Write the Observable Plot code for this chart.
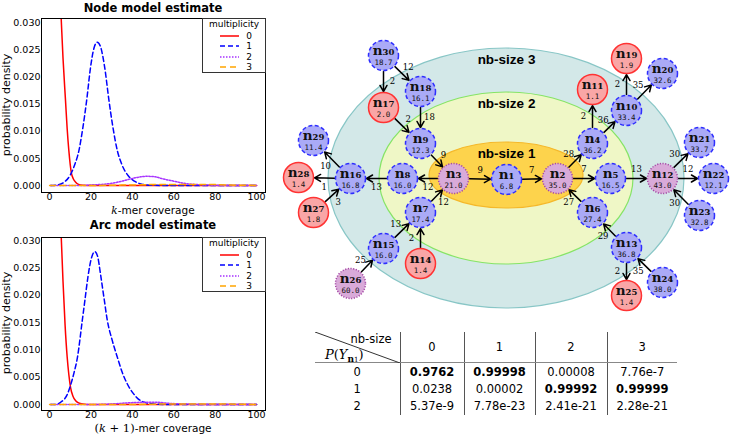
<!DOCTYPE html>
<html><head><meta charset="utf-8">
<script src="https://cdn.jsdelivr.net/npm/d3@7"></script>
<script src="https://cdn.jsdelivr.net/npm/@observablehq/plot@0.6"></script>
<style>
body{margin:0;background:#fff;}
#root{position:relative;width:730px;height:434px;overflow:hidden;background:#fff;font-family:"DejaVu Sans",sans-serif;color:#000;}
.title{position:absolute;left:41px;width:224px;text-align:center;font-weight:bold;font-size:11.5px;line-height:14px;}
.xlab{position:absolute;left:41px;width:224px;text-align:center;font-size:10.5px;line-height:12px;}
.ylab{position:absolute;width:140px;left:-63px;text-align:center;font-size:11px;line-height:14px;transform:rotate(-90deg);}
.legend{position:absolute;left:202px;width:62px;height:53px;border:1px solid #333;background:#fff;}
#tbl{position:absolute;left:315px;top:332px;border-collapse:collapse;font-family:"DejaVu Sans",sans-serif;font-size:11.5px;}
#tbl td{padding:0;text-align:center;line-height:12px;}
#tbl td.v{border-left:1px solid #555;}
#tbl tr.h td{height:30px;border-bottom:1px solid #888;}
#tbl tr.b td{height:17.3px;}
</style>
</head><body>
<div id="root"></div>
<script>
// ---------- curve data ----------
const multiplicities = ["0", "1", "2", "3"];
const xTicks = [0, 20, 40, 60, 80, 100];
const yTicks = [0, 0.005, 0.01, 0.015, 0.02, 0.025, 0.03];

// Node model estimate: [coverage, density]
const nodeM0 = [[5,0.036],[5.6,0.031],[6.5,0.0235],[7.7,0.0157],[8.5,0.0105],[9.3,0.0065],[10.5,0.0024],[11.5,0.0012],[12.6,0.0006],[14,0.0002],[16,0.00005],[20,0],[40,0],[60,0],[80,0],[100,0]];
const nodeM1 = [[0.5,0],[4,0.0001],[7,0.0006],[10.1,0.002],[12,0.0037],[14.2,0.0065],[16,0.0105],[17.9,0.0157],[19.8,0.0219],[21.5,0.0255],[23,0.0265],[24.5,0.0258],[26.6,0.0219],[28.7,0.0157],[30.5,0.011],[32.7,0.0065],[35,0.0038],[38,0.0018],[41,0.0008],[45,0.0002],[50,0.00003],[60,0],[80,0],[100,0]];
const nodeM2 = [[0.5,0],[15,0],[20,0.0001],[25,0.0002],[30,0.0004],[35,0.0008],[40,0.0013],[44,0.0016],[47,0.0017],[51,0.0016],[55,0.0012],[60,0.0008],[65,0.0004],[70,0.0002],[75,0.0001],[85,0],[100,0]];
const nodeM3 = [[0,0],[20,0],[40,0.0001],[55,0.0002],[65,0.0002],[75,0.0002],[85,0.0001],[100,0]];

// Arc model estimate
const arcM0 = [[5,0.036],[5.6,0.031],[6.5,0.0225],[7.5,0.0145],[8.5,0.0087],[9.3,0.0055],[10.1,0.0032],[11.3,0.0015],[12.6,0.0007],[14,0.0003],[16,0.0001],[20,0],[40,0],[60,0],[80,0],[100,0]];
const arcM1 = [[0.5,0],[2.9,0],[5.3,0.0004],[8.5,0.0018],[10.1,0.0035],[11.8,0.0058],[13.4,0.0085],[15.8,0.0154],[17.2,0.0195],[18.5,0.0233],[20.2,0.0268],[21.9,0.028],[23.3,0.027],[24.6,0.0239],[26.3,0.0195],[27.9,0.0154],[30.3,0.0117],[32.7,0.0087],[35,0.006],[37.5,0.0038],[40.5,0.002],[44,0.0007],[50,0.0001],[55,0],[80,0],[100,0]];
const arcM2 = [[0.5,0],[20,0],[30,0.0001],[38,0.0003],[45,0.0004],[52,0.0004],[58,0.0002],[65,0.0001],[75,0],[100,0]];
const arcM3 = [[0,0],[40,0],[60,0.0001],[75,0.0001],[100,0]];

// ---------- graph data ----------
const nodeIds  = [1,2,3,4,5,6,7,8,9,10,11,12,13,14,15,16,17,18,19,20,21,22,23,24,25,26,27,28,29,30];
const nodeCov  = [6.8,35.0,21.0,36.2,16.5,27.4,17.4,16.0,12.3,33.4,1.1,43.0,36.8,1.4,16.0,16.8,2.0,16.1,1.9,32.6,33.7,12.1,32.8,38.0,1.4,60.0,1.8,1.4,11.4,18.7];
const nodeMult = [1,2,2,1,1,1,1,1,1,1,0,2,1,0,1,1,0,1,0,1,1,1,1,1,0,2,0,0,1,1];
// edges: [from, to, weight]
const edgeList = [[30,17,2],[30,18,12],[18,9,18],[17,9,2],[9,3,9],[3,1,9],[1,2,7],[3,8,12],[7,3,12],[8,16,13],[16,29,10],[16,28,1],[27,16,3],[15,7,13],[14,7,2],[26,15,25],[2,4,28],[2,5,7],[6,2,27],[4,11,2],[4,10,36],[10,19,2],[10,20,35],[5,12,13],[12,21,30],[12,22,12],[23,12,30],[13,6,29],[13,25,2],[24,13,35]];
const nbSizes = ["nb-size 3", "nb-size 2", "nb-size 1"];

// table
const tableCols = ["0","1","2","3"];
const tableRowLabels = ["0","1","2"];
const tableVals = [["0.9762","0.99998","0.00008","7.76e-7"],["0.0238","0.00002","0.99992","0.99999"],["5.37e-9","7.78e-23","2.41e-21","2.28e-21"]];

// ---------- layout (positions of the drawing) ----------
const nodePos = {1:[506,179],2:[557,178],3:[453,178],4:[592,143],5:[610,178],6:[592,212],7:[420,212],8:[402,178],9:[420,143],10:[626,110],11:[592,89],12:[662,178],13:[626,247],14:[420,263],15:[383,248],16:[350,178],17:[383,107],18:[420,91],19:[626,58],20:[662,73],21:[699,142],22:[713,178],23:[699,215],24:[662,282],25:[626,295],26:[350,283],27:[313,212],28:[298,177],29:[313,140],30:[383,55]};
const labelSide = {"27-16":-1,"7-3":-1,"13-25":-1};
const ellipseGeom = {"nb-size 3":[506,178,178,130],"nb-size 2":[506,178,127,86],"nb-size 1":[506,175,77,33]};

// ---------- styles ----------
const lineColor = {"0":"#ff0000","1":"#0000ff","2":"#a733ff","3":"#ffa500"};
const lineDash = {"0":null,"1":"5,3","2":"1.5,1.5","3":"6,4"};
const ellFill = {"nb-size 3":"#d3e8e8","nb-size 2":"#eff7c6","nb-size 1":"#fdd34c"};
const ellStroke = {"nb-size 3":"#88c6c6","nb-size 2":"#86e466","nb-size 1":"#f5b82a"};
const nodeFill = {0:"#f9a6a6",1:"#aaaaf7",2:"#d9aad9"};
const nodeStroke = {0:"#ff3333",1:"#2e2eff",2:"#a64aa6"};
const nodeDash = {0:null,1:"4,2.5",2:"1.2,1.5"};

const root = document.getElementById("root");
function place(el, left, top){ el.style.position="absolute"; el.style.left=left+"px"; el.style.top=top+"px"; root.appendChild(el); return el; }

function densityChart(series, yDomain, height, marginTop, marginBottom){
  return Plot.plot({
    width: 270, height, marginLeft: 41, marginRight: 5, marginTop, marginBottom,
    style: {fontFamily: "DejaVu Sans", fontSize: "9.5px", background: "transparent", overflow: "visible"},
    x: {domain: [-3.9, 104.3], ticks: xTicks, tickSize: 0, tickPadding: 1, label: null},
    y: {domain: yDomain, ticks: yTicks, tickFormat: d3.format(".3f"), tickSize: 0, tickPadding: 1, label: null},
    marks: [
      ...series.map((pts, i) => Plot.line(pts, {x: d => d[0], y: d => d[1], stroke: lineColor[multiplicities[i]], strokeWidth: 1.5, strokeDasharray: lineDash[multiplicities[i]], curve: "monotone-x", clip: true})),
      Plot.frame({stroke: "#000", strokeWidth: 1})
    ]
  });
}

function legend(top){
  const div = document.createElement("div");
  div.className = "legend";
  div.style.top = top + "px";
  let html = `<div style="position:absolute;left:0;width:100%;top:0px;text-align:center;line-height:10px;height:10px;font-size:9px">multiplicity</div>`;
  multiplicities.forEach((m, i) => {
    const c = 16.5 + i*10.5;
    html += `<svg style="position:absolute;left:17px;top:${c - 3}px" width="19" height="6"><line x1="0" x2="19" y1="3" y2="3" stroke="${lineColor[m]}" stroke-width="1.5" ${lineDash[m] ? `stroke-dasharray="${lineDash[m]}"` : ""}/></svg>`;
    html += `<div style="position:absolute;left:40px;width:12px;text-align:center;top:${c - 5}px;line-height:10px;height:10px;font-size:9px">${m}</div>`;
  });
  div.innerHTML = html;
  root.appendChild(div);
}

// top chart
place(densityChart([nodeM0,nodeM1,nodeM2,nodeM3], [-0.0013, 0.0309], 215, 18, 23), 0, 0);
const t1 = document.createElement("div"); t1.className="title"; t1.textContent="Node model estimate"; t1.style.top="1px"; root.appendChild(t1);
const x1 = document.createElement("div"); x1.className="xlab"; x1.innerHTML='<span style="font-family:\'DejaVu Serif\';font-style:italic">k</span>-mer coverage'; x1.style.top="204px"; root.appendChild(x1);
const y1 = document.createElement("div"); y1.className="ylab"; y1.textContent="probability density"; y1.style.top="98px"; root.appendChild(y1);
legend(18);

// bottom chart
place(densityChart([arcM0,arcM1,arcM2,arcM3], [-0.0011, 0.0306], 219, 22, 24), 0, 215);
const t2 = document.createElement("div"); t2.className="title"; t2.textContent="Arc model estimate"; t2.style.top="218px"; root.appendChild(t2);
const x2 = document.createElement("div"); x2.className="xlab"; x2.innerHTML='<span style="font-family:\'DejaVu Serif\';font-size:11.5px">(<i>k</i> + 1)</span>-mer coverage'; x2.style.top="422px"; root.appendChild(x2);
const y2 = document.createElement("div"); y2.className="ylab"; y2.textContent="probability density"; y2.style.top="316px"; root.appendChild(y2);
legend(237);

// ---------- graph ----------
const SUB = "₀₁₂₃₄₅₆₇₈₉";
const sub = n => String(n).split("").map(c => SUB[+c]).join("");
const nodes = nodeIds.map((id, i) => ({id, cov: nodeCov[i], mult: nodeMult[i], x: nodePos[id][0], y: nodePos[id][1]}));
const edges = edgeList.map(([s, t, w]) => {
  const [xa, ya] = nodePos[s], [xb, yb] = nodePos[t];
  const len = Math.hypot(xb - xa, yb - ya), ux = (xb - xa)/len, uy = (yb - ya)/len;
  const side = labelSide[s + "-" + t] || 1, off = 9;
  return {s, t, w, x1: xa, y1: ya, x2: xb, y2: yb, lx: (xa + xb)/2 + side*uy*off, ly: (ya + yb)/2 - side*ux*off};
});
const ellipses = nbSizes.map(name => ({name, cx: ellipseGeom[name][0], cy: ellipseGeom[name][1], rx: ellipseGeom[name][2], ry: ellipseGeom[name][3]}));

const ellipseMark = (index, scales) => {
  const sx = typeof scales?.x === "function" ? scales.x : v => v - 270;
  const sy = typeof scales?.y === "function" ? scales.y : v => v;
  const g = d3.create("svg:g");
  for (const e of ellipses) {
    const cx = sx(e.cx), cy = sy(e.cy);
    g.append("ellipse").attr("cx", cx).attr("cy", cy)
      .attr("rx", Math.abs(sx(e.cx + e.rx) - cx)).attr("ry", Math.abs(sy(e.cy + e.ry) - cy))
      .attr("fill", ellFill[e.name]).attr("stroke", ellStroke[e.name]).attr("stroke-width", 1.2);
  }
  return g.node();
};

const graph = Plot.plot({
  width: 460, height: 320, margin: 0,
  x: {domain: [270, 730], axis: null},
  y: {domain: [320, 0], axis: null},
  style: {background: "transparent", overflow: "visible"},
  marks: [
    ellipseMark,
    Plot.text(ellipses, {x: "cx", y: d => d.cy - d.ry, text: "name", dy: 11, fontFamily: "Liberation Sans", fontWeight: "bold", fontSize: 13.5, fill: "#000"}),
    Plot.arrow(edges, {x1: "x1", y1: "y1", x2: "x2", y2: "y2", insetStart: 16, insetEnd: 16, headLength: 7, stroke: "#000", strokeWidth: 1.5}),
    Plot.text(edges, {x: "lx", y: "ly", text: d => String(d.w), fontFamily: "DejaVu Serif", fontSize: 8.5, fill: "#000"}),
    ...[0, 1, 2].map(m => Plot.dot(nodes.filter(d => d.mult === m), {x: "x", y: "y", r: 15, fill: nodeFill[m], stroke: nodeStroke[m], strokeWidth: 1.5, strokeDasharray: nodeDash[m], fillOpacity: 1})),
    Plot.text(nodes, {x: "x", y: "y", text: d => "n" + sub(d.id), dy: -4.5, fontFamily: "DejaVu Serif", fontWeight: "bold", fontSize: 13.5, fill: "#111"}),
    Plot.text(nodes, {x: "x", y: "y", text: d => d.cov.toFixed(1), dy: 7, fontFamily: "DejaVu Sans Mono", fontSize: 7.5, fill: "#111"})
  ]
});
place(graph, 270, 0);

// ---------- table ----------
const colMax = tableCols.map((c, j) => Math.max(...tableVals.map(r => +r[j])));
const widths = [85, 64, 71, 72, 70];
let th = `<colgroup>${widths.map(w => `<col style="width:${w}px">`).join("")}</colgroup>`;
th += `<tr class="h"><td style="position:relative">
  <svg style="position:absolute;left:0;top:0" width="85" height="31"><line x1="0" y1="0" x2="85" y2="31" stroke="#333" stroke-width="1"/></svg>
  <div style="position:absolute;right:8px;top:1px;line-height:12px">nb-size</div>
  <div style="position:absolute;left:10px;top:14.5px;line-height:16px;font-family:'DejaVu Serif';font-size:13px"><i>P</i>(<i>Y</i><span style="font-size:9px;position:relative;top:3px"><b>n</b><span style="font-size:7px">1</span></span>)</div>
</td>${tableCols.map(c => `<td class="v">${c}</td>`).join("")}</tr>`;
tableRowLabels.forEach((r, i) => {
  th += `<tr class="b"><td>${r}</td>${tableVals[i].map((v, j) => `<td class="v" style="${+v === colMax[j] ? "font-weight:bold" : ""}">${v}</td>`).join("")}</tr>`;
});
const tbl = document.createElement("table"); tbl.id = "tbl"; tbl.innerHTML = th; root.appendChild(tbl);
</script>
</body></html>
